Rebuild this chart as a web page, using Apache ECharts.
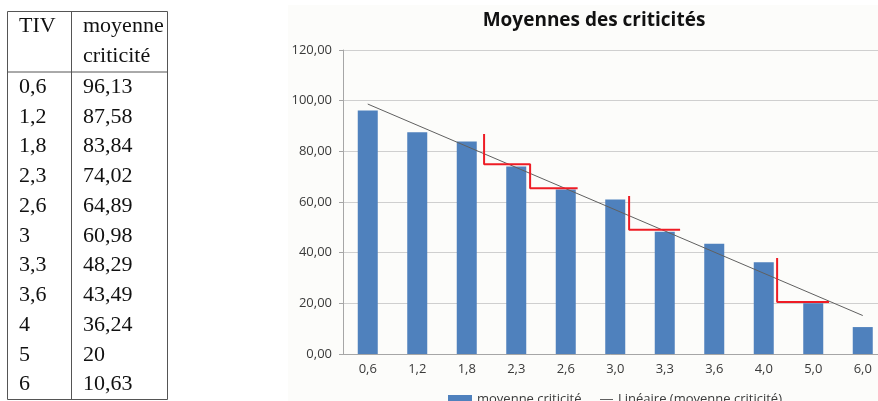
<!DOCTYPE html>
<html>
<head>
<meta charset="utf-8">
<script src="https://cdn.jsdelivr.net/npm/echarts@6/dist/echarts.min.js"></script>
<style>
  html, body { margin: 0; padding: 0; background: #fff; }
  #chart { width: 878px; height: 401px; }
</style>
</head>
<body>
<div id="chart"></div>
<script>
// table (left)
var tivTable = ['0,6', '1,2', '1,8', '2,3', '2,6', '3', '3,3', '3,6', '4', '5', '6'];
var tableHeader = ['TIV', 'moyenne', 'criticité'];

// chart
var categories = ['0,6', '1,2', '1,8', '2,3', '2,6', '3,0', '3,3', '3,6', '4,0', '5,0', '6,0'];
var criticite = [96.13, 87.58, 83.84, 74.02, 64.89, 60.98, 48.29, 43.49, 36.24, 20, 10.63];
var trendEnds = [98.66, 15.18];
var yTicks = { min: 0, max: 120, interval: 20 };

// red annotations, x in category units (0 = left edge of first category)
var redStep1 = [[2.85, 86.8], [2.85, 74.9], [3.78, 74.9], [3.78, 65.4], [4.74, 65.4]];
var redStep2 = [[5.78, 62.4], [5.78, 49.0], [6.81, 49.0]];
var redStep3 = [[8.77, 37.9], [8.77, 20.5], [9.82, 20.5]];

(function() {
  var chart = echarts.init(document.getElementById('chart'), null, { renderer: 'canvas' });
  var sans = '"Open Sans", "Liberation Sans", sans-serif';
  var serif = '"Liberation Serif", "DejaVu Serif", serif';
  var axisInk = '#3a3a3a';
  var red = '#ee1c25';

  function fr(v) { return String(v).replace('.', ','); }

  // table as graphic elements
  var tbl = [];
  var tableLine = { stroke: '#555', lineWidth: 1 };
  var L = 7.5, M = 71.5, R = 167.5, T = 11.5, H = 72, B = 399.5;
  [[L, T, L, B], [M, T, M, B], [R, T, R, B], [L, T, R, T], [L, H, R, H], [L, B, R, B]].forEach(function(s) {
    tbl.push({ type: 'line', shape: { x1: s[0], y1: s[1], x2: s[2], y2: s[3] }, style: tableLine, silent: true });
  });
  function cell(txt, x, y) {
    return { type: 'text', x: x, y: y, style: { text: txt, font: '22px ' + serif, fill: '#111', textVerticalAlign: 'middle' }, silent: true };
  }
  tbl.push(cell(tableHeader[0], 19, 26));
  tbl.push(cell(tableHeader[1], 83, 26));
  tbl.push(cell(tableHeader[2], 83, 56));
  tivTable.forEach(function(t, i) {
    var y = 87 + i * 29.75;
    tbl.push(cell(t, 19, y));
    tbl.push(cell(fr(criticite[i]), 83, y));
  });

  var graphics = [
    { type: 'rect', shape: { x: 288, y: 5, width: 600, height: 400 }, style: { fill: '#fcfcfa' }, z: -10, silent: true },
    { type: 'text', x: 594, y: 21, style: { text: 'Moyennes des criticités', font: 'bold 19px ' + sans, fill: '#111', textAlign: 'center', textVerticalAlign: 'middle' }, silent: true }
  ].concat(tbl);

  function redSeries(data) {
    return {
      type: 'line', xAxisIndex: 1, data: data, symbol: 'none', silent: true,
      lineStyle: { color: red, width: 2 }, z: 5
    };
  }

  var legendText = { fontFamily: sans, fontSize: 13, color: axisInk };

  var option = {
    animation: false,
    graphic: graphics,
    grid: { left: 343, top: 50, right: -9.5, bottom: 47, outerBoundsMode: 'none' },
    legend: [
      {
        data: [{ name: 'moyenne criticité', icon: 'rect' }],
        left: 443, top: 388, itemWidth: 24, itemHeight: 9, itemGap: 3,
        textStyle: legendText, selectedMode: false
      },
      {
        data: [{ name: 'Linéaire (moyenne criticité)', icon: 'rect', itemStyle: { color: '#606060' } }],
        left: 595, top: 388, itemWidth: 13, itemHeight: 1,
        textStyle: legendText, selectedMode: false
      }
    ],
    xAxis: [
      {
        type: 'category', data: categories,
        axisLine: { lineStyle: { color: '#a6a6a6' } },
        axisTick: { length: 4, lineStyle: { color: '#a6a6a6' } },
        axisLabel: { color: axisInk, fontFamily: sans, fontSize: 13, margin: 9, interval: 0 }
      },
      { type: 'value', min: 0, max: 11, show: false }
    ],
    yAxis: {
      type: 'value', min: yTicks.min, max: yTicks.max, interval: yTicks.interval,
      axisLine: { show: true, lineStyle: { color: '#a6a6a6' } },
      axisTick: { show: true, length: 4, lineStyle: { color: '#a6a6a6' } },
      axisLabel: {
        color: axisInk, fontFamily: sans, fontSize: 13, margin: 11,
        formatter: function(v) { return v.toFixed(2).replace('.', ','); }
      },
      splitLine: { lineStyle: { color: '#cfcfcf' } }
    },
    series: [
      {
        name: 'moyenne criticité', type: 'bar', data: criticite, barWidth: 20,
        itemStyle: { color: '#4f81bd' }
      },
      {
        name: 'Linéaire (moyenne criticité)', type: 'line',
        data: [[categories[0], trendEnds[0]], [categories[categories.length - 1], trendEnds[1]]],
        symbol: 'none', lineStyle: { color: '#606060', width: 1 }, itemStyle: { color: '#606060' }, z: 4
      },
      redSeries(redStep1),
      redSeries(redStep2),
      redSeries(redStep3)
    ]
  };

  chart.setOption(option);
  window.addEventListener('resize', function() { chart.resize(); });
})();
</script>
</body>
</html>
